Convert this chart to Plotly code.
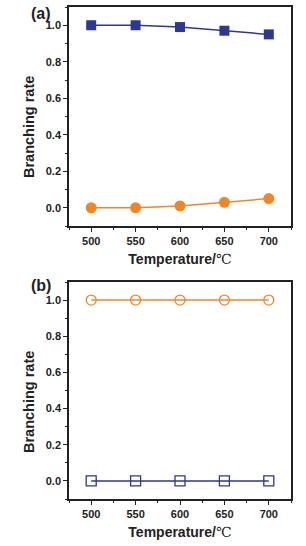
import plotly.graph_objects as go

temps = [500, 550, 600, 650, 700]
a_squares = [1.0, 1.0, 0.99, 0.97, 0.95]
a_circles = [0.0, 0.0, 0.01, 0.03, 0.05]
b_circles = [1.0, 1.0, 1.0, 1.0, 1.0]
b_squares = [0.0, 0.0, 0.0, 0.0, 0.0]
x_ticks = [500, 550, 600, 650, 700]
y_ticks = [0.0, 0.2, 0.4, 0.6, 0.8, 1.0]
panel_labels = ["(a)", "(b)"]
x_title = "Temperature/<span style=\"font-family:'DejaVu Serif';font-weight:normal\">℃</span>"
y_title = "Branching rate"

NAVY = "#2b3990"
ORANGE = "#f0862a"
FONT = "Liberation Sans"
TXT = "#222"

fig = go.Figure()

fig.add_trace(go.Scatter(x=temps, y=a_squares, mode="lines+markers",
                         line=dict(color=NAVY, width=1.5),
                         marker=dict(symbol="square", size=10, color=NAVY),
                         xaxis="x", yaxis="y", showlegend=False))
fig.add_trace(go.Scatter(x=temps, y=a_circles, mode="lines+markers",
                         line=dict(color=ORANGE, width=1.5),
                         marker=dict(symbol="circle", size=11, color=ORANGE),
                         xaxis="x", yaxis="y", showlegend=False))
fig.add_trace(go.Scatter(x=temps, y=b_circles, mode="lines+markers",
                         line=dict(color=ORANGE, width=1.5),
                         marker=dict(symbol="circle-open", size=10, color=ORANGE,
                                     line=dict(width=1.3)),
                         xaxis="x2", yaxis="y2", showlegend=False))
fig.add_trace(go.Scatter(x=temps, y=b_squares, mode="lines+markers",
                         line=dict(color=NAVY, width=1.5),
                         marker=dict(symbol="square-open", size=10, color=NAVY,
                                     line=dict(width=1.3)),
                         xaxis="x2", yaxis="y2", showlegend=False))

xdom = [69 / 306, 291 / 306]
ydom_a = [1 - 226 / 546, 1 - 7 / 546]
ydom_b = [1 - 499 / 546, 1 - 282 / 546]

tickfont = dict(family=FONT, size=11, color=TXT, weight="bold")
titlefont_x = dict(family=FONT, size=14, color=TXT, weight="bold")
titlefont_y = dict(family=FONT, size=14.5, color=TXT, weight="bold")


def xaxis_cfg(anchor):
    return dict(domain=xdom, anchor=anchor, range=[475, 725], automargin=False,
                tickvals=x_ticks, ticks="outside", ticklen=4, tickwidth=1.3,
                tickcolor=TXT, tickfont=tickfont,
                minor=dict(ticks="outside", ticklen=2.5, dtick=25, tick0=475, tickcolor=TXT),
                showline=True, linecolor=TXT, linewidth=1.5, mirror=True,
                showgrid=False, zeroline=False,
                title=dict(text=x_title, font=titlefont_x, standoff=8))


def yaxis_cfg(anchor):
    return dict(domain=ydom_a if anchor == "x" else ydom_b, anchor=anchor,
                range=[-0.1, 1.1], tickvals=y_ticks, tickformat=".1f", automargin=False,
                ticks="outside", ticklen=4, tickwidth=1.3, tickcolor=TXT,
                tickfont=tickfont,
                minor=dict(ticks="outside", ticklen=2.5, dtick=0.1, tick0=0, tickcolor=TXT),
                showline=True, linecolor=TXT, linewidth=1.5, mirror=True,
                showgrid=False, zeroline=False)


fig.update_layout(
    width=306, height=546,
    margin=dict(l=0, r=0, t=0, b=0, autoexpand=False),
    paper_bgcolor="white", plot_bgcolor="white",
    xaxis=xaxis_cfg("y"), yaxis=yaxis_cfg("x"),
    xaxis2=xaxis_cfg("y2"), yaxis2=yaxis_cfg("x2"),
    annotations=[
        dict(text=panel_labels[0], x=29 / 306, y=1 - 3 / 546, xref="paper", yref="paper",
             xanchor="left", yanchor="top", showarrow=False,
             font=dict(family=FONT, size=16, color=TXT, weight="bold")),
        dict(text=panel_labels[1], x=29 / 306, y=1 - 275 / 546, xref="paper", yref="paper",
             xanchor="left", yanchor="top", showarrow=False,
             font=dict(family=FONT, size=16, color=TXT, weight="bold")),
        dict(text=y_title, x=29 / 306, y=1 - 127 / 546, xref="paper", yref="paper",
             xanchor="center", yanchor="middle", textangle=-90, showarrow=False,
             font=titlefont_y),
        dict(text=y_title, x=29 / 306, y=1 - 402 / 546, xref="paper", yref="paper",
             xanchor="center", yanchor="middle", textangle=-90, showarrow=False,
             font=titlefont_y),
    ],
)

fig.write_html("out.html", config={"displayModeBar": False},
               post_script="document.body.style.margin='0';document.body.style.overflow='hidden';")
